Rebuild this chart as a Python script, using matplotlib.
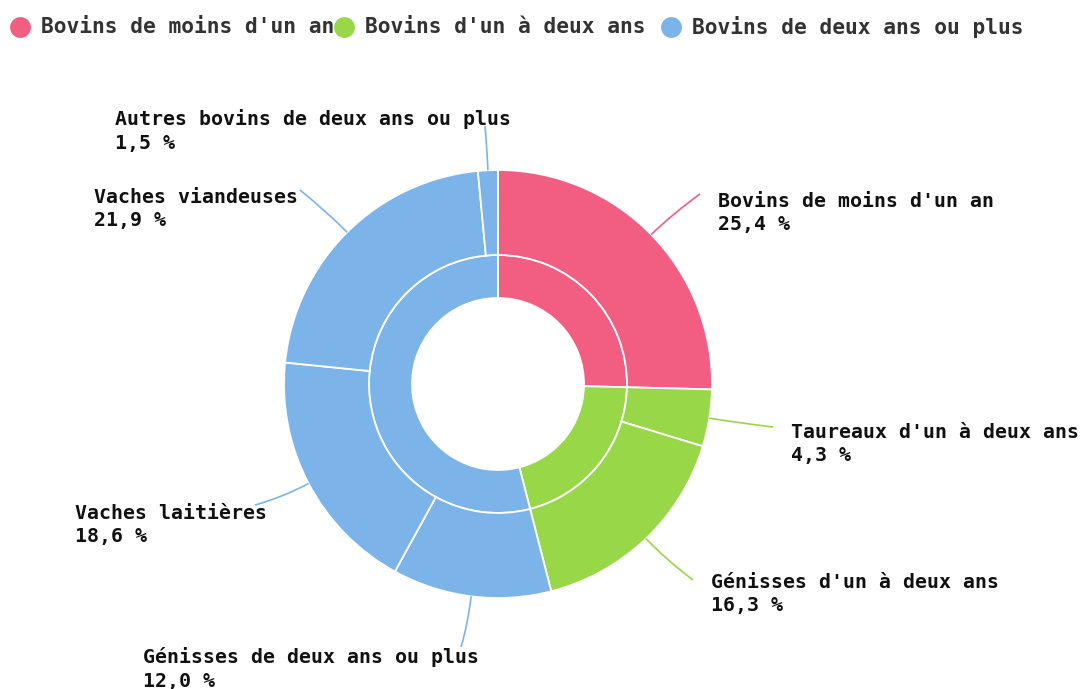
import numpy as np
import matplotlib.pyplot as plt
from matplotlib.path import Path
from matplotlib.patches import PathPatch

# inner ring: age groups
groups = ["Bovins de moins d'un an", "Bovins d'un à deux ans", "Bovins de deux ans ou plus"]
group_colors = ['#f25e82', '#98d748', '#7cb4ea']

# outer ring: detailed types (share of total herd, %)
types = ["Bovins de moins d'un an", "Taureaux d'un à deux ans", "Génisses d'un à deux ans",
         "Génisses de deux ans ou plus", "Vaches laitières", "Vaches viandeuses",
         "Autres bovins de deux ans ou plus"]
type_group = [0, 1, 1, 2, 2, 2, 2]
type_share = [25.4, 4.3, 16.3, 12.0, 18.6, 21.9, 1.5]

W, H = 1083, 689
fig = plt.figure(figsize=(W / 100, H / 100), dpi=100)
ax = fig.add_axes([0, 0, 1, 1])

cx, cy = 498, H - 384
r_out, r_mid, r_hole = 214, 129, 86

group_share = [sum(v for v, g in zip(type_share, type_group) if g == i) for i in range(len(groups))]
type_colors = [group_colors[g] for g in type_group]

ax.pie(group_share, radius=r_mid, center=(cx, cy), startangle=90, counterclock=False,
       colors=group_colors, wedgeprops=dict(width=r_mid - r_hole, edgecolor='white', linewidth=1.3))
wedges, _ = ax.pie(type_share, radius=r_out, center=(cx, cy), startangle=90, counterclock=False,
                   colors=type_colors, wedgeprops=dict(width=r_out - r_mid, edgecolor='white', linewidth=1.3))

# label layout (pixel coords, y from top)
text_pos = [(718, 213), (791, 444), (711, 594), (143, 669), (75, 525), (94, 209), (115, 131)]
line_end = [(700, 194), (773, 427), (693, 580), (461, 647), (255, 505), (300, 190), (485, 126)]

mono = ['DejaVu Sans Mono']
for i, w in enumerate(wedges):
    ang = np.deg2rad((w.theta1 + w.theta2) / 2)
    p0 = (cx + r_out * np.cos(ang), cy + r_out * np.sin(ang))
    p1 = (cx + (r_out + 30) * np.cos(ang), cy + (r_out + 30) * np.sin(ang))
    p2 = (line_end[i][0], H - line_end[i][1])
    path = Path([p0, p1, p2], [Path.MOVETO, Path.CURVE3, Path.CURVE3])
    ax.add_patch(PathPatch(path, fill=False, edgecolor=type_colors[i], lw=1.2))
    label = types[i] + "\n" + f"{type_share[i]:.1f} %".replace('.', ',')
    ax.text(text_pos[i][0], H - text_pos[i][1], label, ha='left', va='center',
            family=mono, fontweight='bold', fontsize=14.3, color='#111111', linespacing=1.3)

# legend
leg_x = [20, 344, 671]
for i, g in enumerate(groups):
    ax.text(leg_x[i] + 21, H - 27, g, ha='left', va='center', family=mono,
            fontweight='bold', fontsize=15.3, color='#333333')
for i, g in enumerate(groups):
    ax.plot(leg_x[i], H - 27, 'o', ms=15, color=group_colors[i], mec='none', zorder=5)

ax.set_xlim(0, W)
ax.set_ylim(0, H)
ax.set_aspect('equal')
ax.axis('off')
fig.savefig('out.png', dpi=100)
